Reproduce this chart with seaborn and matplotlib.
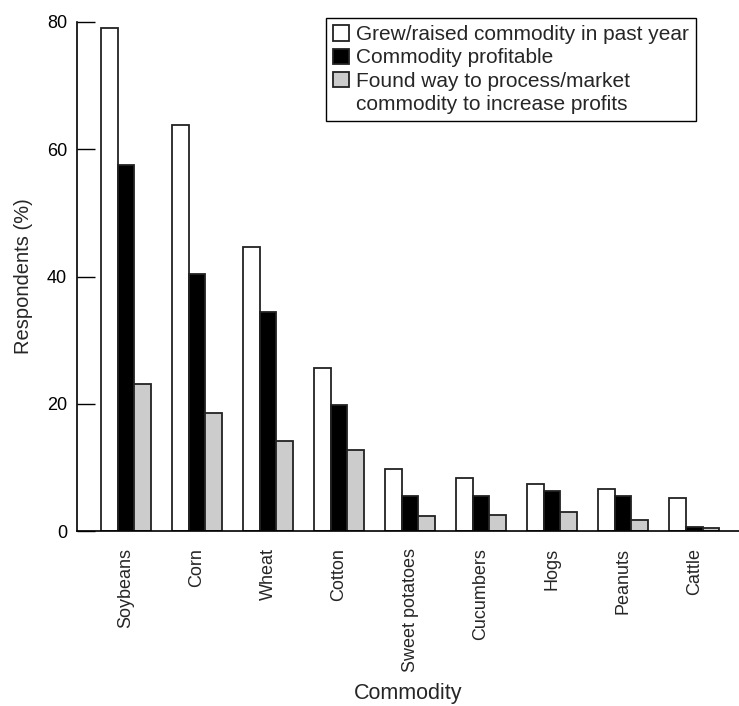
import numpy as np
import pandas as pd
import matplotlib
matplotlib.use('Agg')
import matplotlib.pyplot as plt
from matplotlib.patches import Rectangle
import seaborn as sns

commodities = ['Soybeans', 'Corn', 'Wheat', 'Cotton', 'Sweet potatoes',
               'Cucumbers', 'Hogs', 'Peanuts', 'Cattle']
grew = [79.0, 63.8, 44.6, 25.7, 9.8, 8.4, 7.5, 6.6, 5.3]
profitable = [57.5, 40.4, 34.5, 19.8, 5.6, 5.6, 6.4, 5.5, 0.7]
processed = [23.1, 18.5, 14.2, 12.8, 2.4, 2.5, 3.0, 1.7, 0.5]

series_names = ['Grew/raised commodity in past year',
                'Commodity profitable',
                'Found way to process/market commodity to increase profits']

df = pd.DataFrame({'commodity': commodities,
                   series_names[0]: grew,
                   series_names[1]: profitable,
                   series_names[2]: processed})
plot_data = df.melt(id_vars='commodity', var_name='series', value_name='pct')

sns.set_style('white')
plt.rcParams['font.family'] = ['Liberation Sans', 'DejaVu Sans']

fig = plt.figure(figsize=(7.39, 7.06), dpi=100)
ax = fig.add_axes([0.104, 0.2475, 0.896, 0.7215])

sns.barplot(data=plot_data, x='commodity', y='pct', hue='series',
            palette=['white', 'black', '#cccccc'], width=0.7,
            edgecolor='#222222', linewidth=1.3, saturation=1, ax=ax)

ax.set_xlim(-0.69, 8.63)
ax.set_ylim(0, 80)
ax.set_yticks([0, 20, 40, 60, 80])
ax.tick_params(axis='y', direction='in', length=13, width=1, labelsize=13, pad=7,
               left=True, colors='black')
ax.tick_params(axis='x', length=0, labelsize=13, pad=12, rotation=90)
for s in ['top', 'right']:
    ax.spines[s].set_visible(False)
for s in ['left', 'bottom']:
    ax.spines[s].set_color('black')
    ax.spines[s].set_linewidth(1.2)

ax.set_xlabel('Commodity', fontsize=15.5, labelpad=8)
ax.set_ylabel('Respondents (%)', fontsize=14.5, labelpad=10)

# legend: last entry wraps onto a second line with the box aligned to line one
handles, _ = ax.get_legend_handles_labels()
blank = Rectangle((0, 0), 1, 1, facecolor='none', edgecolor='none')
leg_labels = ['Grew/raised commodity in past year', 'Commodity profitable',
              'Found way to process/market', 'commodity to increase profits']
ax.legend(handles[:3] + [blank], leg_labels,
          loc='upper right', bbox_to_anchor=(696 / 739, 1 - 18 / 706),
          bbox_transform=fig.transFigure, borderaxespad=0,
          fontsize=15, frameon=True, fancybox=False, edgecolor='black',
          framealpha=1, handlelength=0.75, handleheight=0.75, handletextpad=0.35,
          labelspacing=0.2, borderpad=0.35)
ax.get_legend().get_frame().set_linewidth(1)

fig.savefig('out.png', dpi=100)
